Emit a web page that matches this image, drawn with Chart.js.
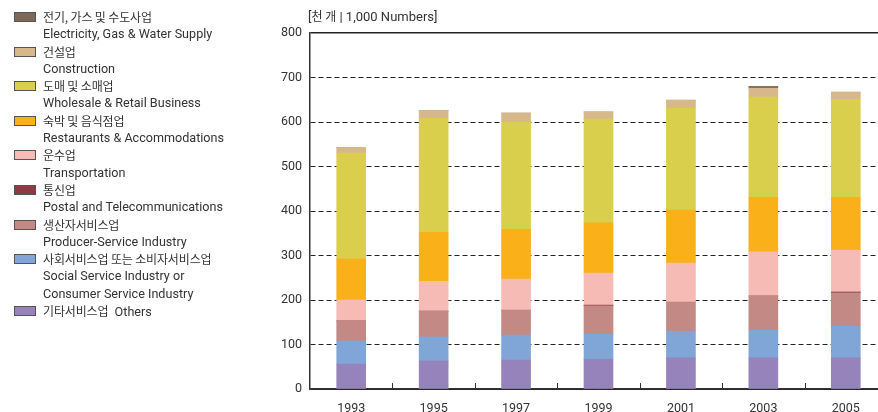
<!DOCTYPE html>
<html>
<head>
<meta charset="utf-8">
<script src="https://cdn.jsdelivr.net/npm/chart.js@4"></script>
<style>
body{margin:0;background:#fff;overflow:hidden}
#wrap{position:relative;width:878px;height:412px;overflow:hidden}
#c{position:absolute;left:0;top:0}
#legend{position:absolute;left:14px;top:8px;color:#333;font-family:Roboto,'Noto Sans CJK KR',sans-serif;font-size:12.6px;line-height:17.3px}
#legend .ko{font-family:'Noto Sans CJK KR',sans-serif;font-size:12px;letter-spacing:-0.15px}
#legend .row{position:relative;padding-left:29px;height:17.3px;white-space:nowrap}
#legend .sw{position:absolute;left:0;top:4px;width:20px;height:8px;border:1px solid #555}
#unit{position:absolute;left:308px;top:7px;color:#333;font-family:Roboto,'Noto Sans CJK KR',sans-serif;font-size:13px;line-height:17px}
#unit .ko{font-family:'Noto Sans CJK KR',sans-serif;font-size:12px}
</style>
</head>
<body>
<div id="wrap">
<canvas id="c" width="890" height="412"></canvas>
<div id="legend"></div>
<div id="unit">[<span class="ko">천 개</span> | 1,000 Numbers]</div>
</div>
<script>
// 연도
let years=['1993','1995','1997','1999','2001','2003','2005']
// 범례 순서 (위에서 아래로)
let koLabels=['전기, 가스 및 수도사업','건설업','도매 및 소매업','숙박 및 음식점업','운수업','통신업','생산자서비스업','사회서비스업 또는 소비자서비스업','기타서비스업']
let enLabels=['Electricity, Gas & Water Supply','Construction','Wholesale & Retail Business','Restaurants & Accommodations','Transportation','Postal and Telecommunications','Producer-Service Industry','Social Service Industry or|Consumer Service Industry','Others']
let colors=['#7e6857','#d6b88a','#d9cf4c','#f9b019','#f5bbb4','#8c3a44','#c38984','#80a6d7','#9683bb']

let electricity=[0,0,0,0,0,4,0]
let construction=[13,18,21,16,18,20,16]
let wholesale=[238,256,240,233,229,225,220]
let restaurants=[92,110,112,113,119,123,119]
let transport=[47,67,70,72,88,99,94]
let postal=[0,0,0,1.5,0,0,2]
let producer=[45,58,56,64,65,77,75]
let social=[52,54,56,56,60,62,71]
let others=[56,63,65,67,70,70,70]

let series=[electricity,construction,wholesale,restaurants,transport,postal,producer,social,others]

// 범례 만들기
let legend=document.getElementById('legend')
for (let i=0;i<koLabels.length;i++){
    let row=document.createElement('div')
    row.className='row'
    let sw='<span class="sw" style="background:'+colors[i]+'"></span>'
    if (i==koLabels.length-1){
        row.innerHTML=sw+'<span class="ko">'+koLabels[i]+'</span>&nbsp; '+enLabels[i]
        legend.append(row)
        continue
    }
    row.innerHTML=sw+'<span class="ko">'+koLabels[i]+'</span>'
    legend.append(row)
    let parts=enLabels[i].split('|')
    for (let p in parts){
        let r=document.createElement('div')
        r.className='row'
        r.textContent=parts[p]
        legend.append(r)
    }
}

// 쌓는 순서는 아래부터
let datasets=[]
for (let i=series.length-1;i>=0;i--){
    datasets.push({
        label:koLabels[i],
        data:series[i],
        backgroundColor:colors[i],
        borderWidth:0,
        barThickness:29
    })
}

// 칸 사이 안쪽 눈금
const innerTicks={
    id:'innerTicks',
    afterDraw(chart){
        let x=chart.scales.x
        let ctx=chart.ctx
        let bottom=chart.chartArea.bottom
        ctx.save()
        ctx.strokeStyle='#333'
        ctx.lineWidth=1
        for (let i=1;i<years.length;i++){
            let px=Math.round((x.getPixelForTick(i-1)+x.getPixelForTick(i))/2)+0.5
            ctx.beginPath()
            ctx.moveTo(px,bottom-6)
            ctx.lineTo(px,bottom)
            ctx.stroke()
        }
        ctx.restore()
    }
}

const ctx=document.getElementById('c').getContext('2d')
const myChart=new Chart(ctx,{
    type:'bar',
    data:{labels:years,datasets:datasets},
    plugins:[innerTicks],
    options:{
        responsive:false,
        animation:false,
        layout:{padding:{top:33,right:3,left:0,bottom:0}},
        plugins:{legend:{display:false},tooltip:{enabled:false}},
        scales:{
            x:{
                stacked:true,
                grid:{display:false},
                border:{display:true,color:'#333',width:1.5},
                ticks:{color:'#333',font:{family:'Roboto',size:12.5},padding:4},
                afterFit(s){s.height=23}
            },
            y:{
                stacked:true,
                min:0,max:800,
                ticks:{stepSize:100,color:'#333',font:{family:'Roboto',size:12.5},padding:8},
                grid:{color:'#222',drawTicks:false,lineWidth:c=>(c.tick&&c.tick.value==800)?1.5:1},
                border:{display:true,color:'#333',width:1.5,dash:c=>(c.tick&&c.tick.value!=800&&c.tick.value!=0)?[5,3]:[]},
                afterFit(s){s.width=310}
            }
        }
    }
})
</script>
</body>
</html>
